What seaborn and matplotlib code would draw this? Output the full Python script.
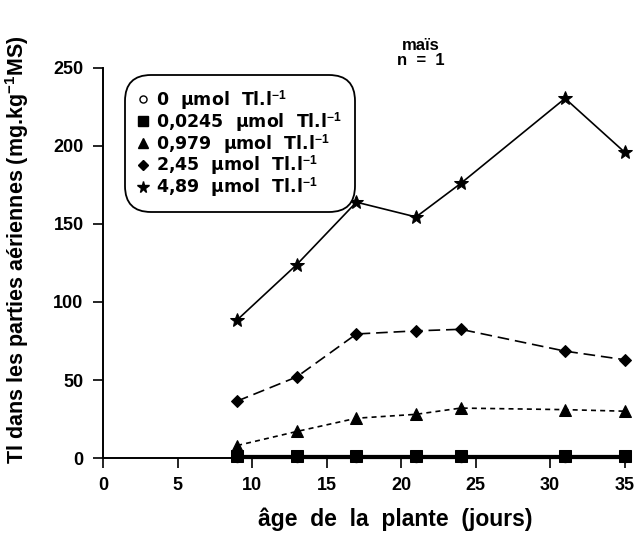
import matplotlib
matplotlib.use("Agg")
import matplotlib.pyplot as plt
from matplotlib.lines import Line2D
import seaborn as sns
import pandas as pd

sns.set_style("ticks")
plt.rcParams['font.family'] = ['Liberation Sans', 'DejaVu Sans']
plt.rcParams['font.weight'] = 'bold'
plt.rcParams['mathtext.fontset'] = 'custom'
plt.rcParams['mathtext.rm'] = 'Liberation Sans:bold'
plt.rcParams['mathtext.it'] = 'Liberation Sans:bold'
plt.rcParams['mathtext.bf'] = 'Liberation Sans:bold'
for k in ['text.color', 'axes.labelcolor', 'xtick.color', 'ytick.color', 'axes.edgecolor']:
    plt.rcParams[k] = 'black'

days = [9, 13, 17, 21, 24, 31, 35]
c0 = [0, 0, 0, 0, 0, 0, 0]
c0245 = [1, 1, 1, 1, 1, 1, 1]
c0979 = [8, 17, 25.5, 28, 32, 31, 30]
c245 = [36.5, 52, 79.5, 81.5, 82.5, 68.5, 63]
c489 = [88.5, 124, 164, 154.5, 176, 230.5, 196]
labels = ["0  µmol  Tl.l$^{-1}$", "0,0245  µmol  Tl.l$^{-1}$", "0,979  µmol  Tl.l$^{-1}$",
          "2,45  µmol  Tl.l$^{-1}$", "4,89  µmol  Tl.l$^{-1}$"]

series = [c0, c0245, c0979, c245, c489]
markers = ['o', 's', '^', 'D', '*']
msizes = [6, 8, 8, 6, 10]
mfcs = ['white', 'black', 'black', 'black', 'black']
lstyles = ['-', '-', (0, (3, 2.5)), (0, (7, 3.5)), '-']
lwidths = [1.6, 1.6, 1.2, 1.2, 1.2]

fig = plt.figure(figsize=(6.34, 5.47), dpi=100)
ax = fig.add_axes([0.1625, 0.1627, 0.8275, 0.713])

for vals, m, ms, fc, ls, lw in zip(series, markers, msizes, mfcs, lstyles, lwidths):
    df = pd.DataFrame({'x': days, 'y': vals})
    sns.lineplot(data=df, x='x', y='y', ax=ax, color='black', linestyle=ls,
                 linewidth=lw, marker=m, markersize=ms, markerfacecolor=fc,
                 markeredgecolor='black', clip_on=False, zorder=3)

ax.set_xlim(0, 35.2)
ax.set_ylim(0, 250)
ax.set_xticks(range(0, 36, 5))
ax.set_yticks(range(0, 251, 50))
sns.despine(ax=ax)
for s in ['left', 'bottom']:
    ax.spines[s].set_linewidth(1.4)
ax.tick_params(axis='both', direction='out', length=7, width=1.2, labelsize=13, pad=7)
for t in ax.get_xticklabels() + ax.get_yticklabels():
    t.set_fontweight('bold')

ax.set_xlabel("âge  de  la  plante  (jours)", fontsize=16.5, fontweight='bold',
              va='center')
ax.xaxis.set_label_coords(0.557, -0.156)
ax.set_ylabel("Tl dans les parties aériennes (mg.kg$^{-1}$MS)", fontsize=15.5,
              fontweight='bold')
ax.yaxis.set_label_coords(-0.138, 0.533)

fig.text(0.664, 0.917, "maïs", ha='center', va='center', fontsize=12, fontweight='bold')
fig.text(0.664, 0.890, "n  =  1", ha='center', va='center', fontsize=12, fontweight='bold')

handles = [Line2D([], [], linestyle='none', marker=m, markersize=ms * 0.85,
                  markerfacecolor=fc, markeredgecolor='black', color='black')
           for m, ms, fc in zip(markers, msizes, mfcs)]
leg = ax.legend(handles, labels, loc='upper left', bbox_to_anchor=(0.042, 0.982),
                prop={'family': 'DejaVu Sans', 'size': 12.5, 'weight': 'bold'},
                frameon=True, fancybox=True,
                handlelength=0.6, handletextpad=0.45, labelspacing=-0.12,
                borderpad=0.75, borderaxespad=0)
fr = leg.get_frame()
fr.set_edgecolor('black')
fr.set_linewidth(1.3)
fr.set_alpha(1)
fr.set_boxstyle('round,pad=0,rounding_size=1.5')

fig.savefig("out.png", dpi=100)
